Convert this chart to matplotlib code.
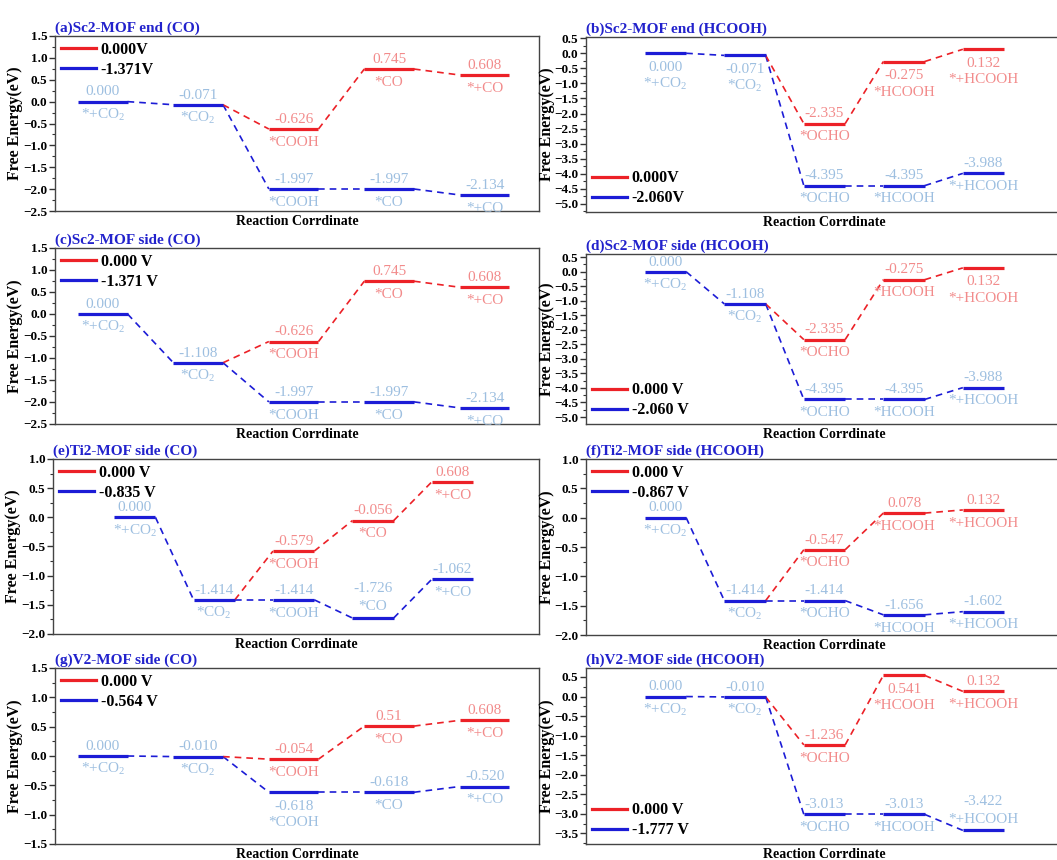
import numpy as np
import matplotlib
matplotlib.use('Agg')
import matplotlib.pyplot as plt
from matplotlib.ticker import MultipleLocator

plt.rcParams['font.family'] = ['Liberation Serif', 'DejaVu Serif']
plt.rcParams['mathtext.fontset'] = 'custom'
plt.rcParams['mathtext.rm'] = 'Liberation Serif'
plt.rcParams['mathtext.it'] = 'Liberation Serif:italic'
plt.rcParams['mathtext.bf'] = 'Liberation Serif:bold'

# reaction steps
steps_co = ['*+CO$_2$', '*CO$_2$', '*COOH', '*CO', '*+CO']
steps_hcooh = ['*+CO$_2$', '*CO$_2$', '*OCHO', '*HCOOH', '*+HCOOH']

# free energies (eV); blue = limiting potential, red = 0 V (steps 3-5)
a_blue = ['0.000', '-0.071', '-1.997', '-1.997', '-2.134']
a_red = ['-0.626', '0.745', '0.608']
a_volt = ['0.000V', '-1.371V']

b_blue = ['0.000', '-0.071', '-4.395', '-4.395', '-3.988']
b_red = ['-2.335', '-0.275', '0.132']
b_volt = ['0.000V', '-2.060V']

c_blue = ['0.000', '-1.108', '-1.997', '-1.997', '-2.134']
c_red = ['-0.626', '0.745', '0.608']
c_volt = ['0.000 V', '-1.371 V']

d_blue = ['0.000', '-1.108', '-4.395', '-4.395', '-3.988']
d_red = ['-2.335', '-0.275', '0.132']
d_volt = ['0.000 V', '-2.060 V']

e_blue = ['0.000', '-1.414', '-1.414', '-1.726', '-1.062']
e_red = ['-0.579', '-0.056', '0.608']
e_volt = ['0.000 V', '-0.835 V']

f_blue = ['0.000', '-1.414', '-1.414', '-1.656', '-1.602']
f_red = ['-0.547', '0.078', '0.132']
f_volt = ['0.000 V', '-0.867 V']

g_blue = ['0.000', '-0.010', '-0.618', '-0.618', '-0.520']
g_red = ['-0.054', '0.51', '0.608']
g_volt = ['0.000 V', '-0.564 V']

h_blue = ['0.000', '-0.010', '-3.013', '-3.013', '-3.422']
h_red = ['-1.236', '0.541', '0.132']
h_volt = ['0.000 V', '-1.777 V']

RED = '#ec2127'
BLUE = '#1c1cd6'
LRED = '#f28b8b'
LBLUE = '#9dbfe0'
TITLE = '#2222cc'

# label placement: ab = value above / step below, bb = both below, aa = both above
OFFS = {'ab': (7, -9.5), 'bb': (-10, -22), 'aa': (21, 8)}

panels = [
    dict(title='(a)Sc2-MOF end (CO)', blue=a_blue, red=a_red, volt=a_volt, steps=steps_co,
         rect=(55, 36, 539, 211), ylim=(-2.5, 1.5), xlim=(0.5, 5.57), leg='upper left',
         bpos=['ab'] * 5, rpos=['ab'] * 3),
    dict(title='(b)Sc2-MOF end (HCOOH)', blue=b_blue, red=b_red, volt=b_volt, steps=steps_hcooh,
         rect=(586, 37, 1063, 212), ylim=(-5.27, 0.54), xlim=(0, 6), leg='lower left',
         bpos=['bb', 'bb', 'ab', 'ab', 'ab'], rpos=['ab', 'bb', 'bb']),
    dict(title='(c)Sc2-MOF side (CO)', blue=c_blue, red=c_red, volt=c_volt, steps=steps_co,
         rect=(55, 248, 539, 424), ylim=(-2.5, 1.5), xlim=(0.5, 5.57), leg='upper left',
         bpos=['ab'] * 5, rpos=['ab'] * 3),
    dict(title='(d)Sc2-MOF side (HCOOH)', blue=d_blue, red=d_red, volt=d_volt, steps=steps_hcooh,
         rect=(586, 254, 1063, 424), ylim=(-5.24, 0.61), xlim=(0, 6), leg='lower left',
         bpos=['ab'] * 5, rpos=['ab', 'ab', 'bb']),
    dict(title='(e)Ti2-MOF side (CO)', blue=e_blue, red=e_red, volt=e_volt, steps=steps_co,
         rect=(53, 459, 539, 634), ylim=(-2, 1), xlim=(-0.03, 6.09), leg='upper left',
         bpos=['ab', 'ab', 'ab', 'aa', 'ab'], rpos=['ab'] * 3),
    dict(title='(f)Ti2-MOF side (HCOOH)', blue=f_blue, red=f_red, volt=f_volt, steps=steps_hcooh,
         rect=(586, 459, 1063, 635), ylim=(-2, 1), xlim=(0, 6), leg='upper left',
         bpos=['ab'] * 5, rpos=['ab'] * 3),
    dict(title='(g)V2-MOF side (CO)', blue=g_blue, red=g_red, volt=g_volt, steps=steps_co,
         rect=(55, 668, 539, 844), ylim=(-1.5, 1.5), xlim=(0.5, 5.57), leg='upper left',
         bpos=['ab', 'ab', 'bb', 'ab', 'ab'], rpos=['ab'] * 3),
    dict(title='(h)V2-MOF side (HCOOH)', blue=h_blue, red=h_red, volt=h_volt, steps=steps_hcooh,
         rect=(586, 668, 1063, 844), ylim=(-3.77, 0.73), xlim=(0, 6), leg='lower left',
         bpos=['ab', 'ab', 'ab', 'ab', 'aa'], rpos=['ab', 'bb', 'ab']),
]

W, H = 1057, 860
W_HALF = 0.26


def label(ax, x, y, txt, step, mode, color):
    dv, ds = OFFS[mode]
    ax.annotate(txt, (x, y), xytext=(0, dv), textcoords='offset points',
                ha='center', va='center', color=color, fontsize=11)
    ax.annotate(step, (x, y), xytext=(0, ds), textcoords='offset points',
                ha='center', va='center', color=color, fontsize=11)


def draw(ax, p):
    x = np.arange(1, 6)
    bv = np.array([float(v) for v in p['blue']])
    rv = np.array([float(v) for v in p['red']])
    xr = x[2:]

    # dashed connectors
    for i in range(4):
        ax.plot([x[i] + W_HALF, x[i + 1] - W_HALF], [bv[i], bv[i + 1]],
                color=BLUE, lw=1.2, ls=(0, (4, 3)))
    rpath = np.concatenate([[bv[1]], rv])
    rx = np.concatenate([[x[1]], xr])
    for i in range(3):
        ax.plot([rx[i] + W_HALF, rx[i + 1] - W_HALF], [rpath[i], rpath[i + 1]],
                color=RED, lw=1.2, ls=(0, (4, 3)))

    # levels
    ax.hlines(bv, x - W_HALF, x + W_HALF, color=BLUE, lw=2.3, zorder=3)
    ax.hlines(rv, xr - W_HALF, xr + W_HALF, color=RED, lw=2.3, zorder=3)

    for i in range(5):
        label(ax, x[i], bv[i], p['blue'][i], p['steps'][i], p['bpos'][i], LBLUE)
    for i in range(3):
        label(ax, xr[i], rv[i], p['red'][i], p['steps'][i + 2], p['rpos'][i], LRED)

    ax.plot([], [], color=RED, lw=2.3, label=p['volt'][0])
    ax.plot([], [], color=BLUE, lw=2.3, label=p['volt'][1])
    ax.legend(loc=p['leg'], frameon=False, handlelength=2.2, handletextpad=0.3,
              labelspacing=0.25, borderaxespad=0.15, borderpad=0.2,
              prop={'weight': 'bold', 'size': 11.5})

    ax.set_xlim(*p['xlim'])
    ax.set_ylim(*p['ylim'])
    ax.yaxis.set_major_locator(MultipleLocator(0.5))
    ax.yaxis.set_minor_locator(MultipleLocator(0.25))
    ax.tick_params(axis='x', bottom=False, labelbottom=False)
    ax.tick_params(axis='y', which='major', direction='out', length=4, width=1,
                   labelsize=9.5, colors='#333333', labelcolor='black', pad=1.5)
    ax.tick_params(axis='y', which='minor', direction='out', length=2.5, width=0.8,
                   colors='#333333')
    for t in ax.get_yticklabels():
        t.set_fontweight('bold')
    for s in ax.spines.values():
        s.set_color('#444444')
        s.set_linewidth(1.0)

    ax.set_ylabel('Free Energy(eV)', fontsize=11.5, fontweight='bold')
    ax.yaxis.set_label_coords(-0.066, 0.5)
    ax.set_xlabel('Reaction Corrdinate', fontsize=10, fontweight='bold', labelpad=3)
    ax.set_title(p['title'], loc='left', color=TITLE, fontsize=11,
                 fontweight='bold', pad=3)


fig = plt.figure(figsize=(W / 100, H / 100), dpi=100)
for p in panels:
    l, t, r, b = p['rect']
    ax = fig.add_axes([l / W, 1 - b / H, (r - l) / W, (b - t) / H])
    draw(ax, p)

fig.savefig('out.png', dpi=100)
